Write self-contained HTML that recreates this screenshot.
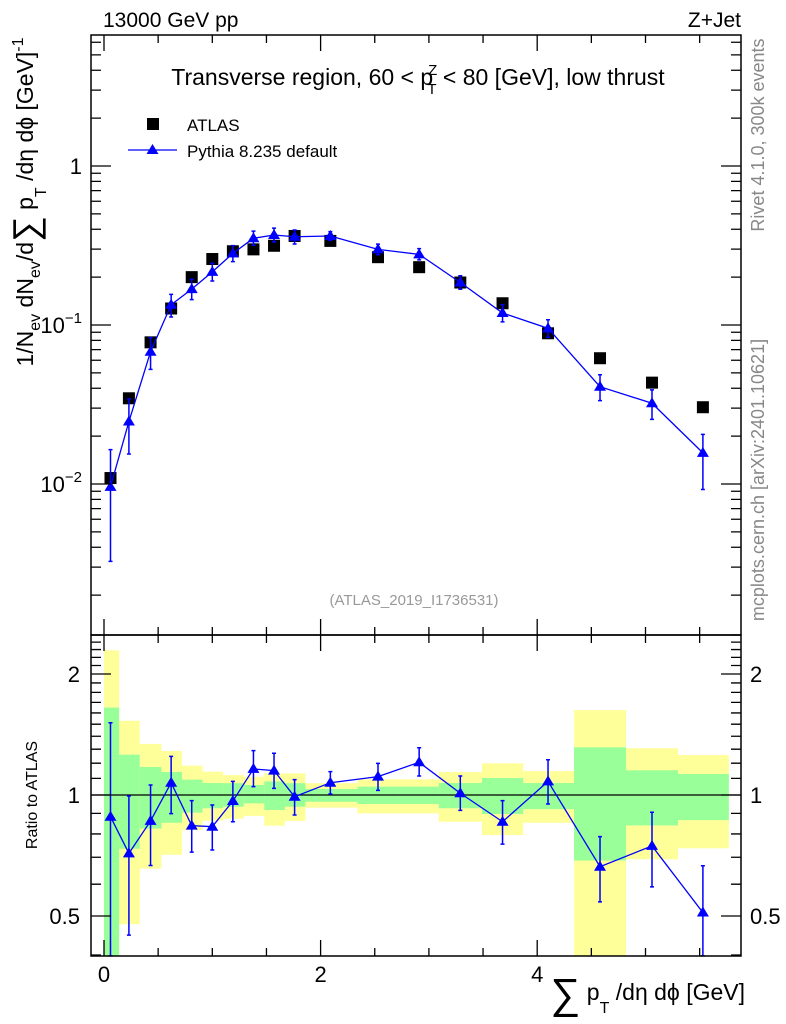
<!DOCTYPE html>
<html><head><meta charset="utf-8"><style>
html,body{margin:0;padding:0;background:#fff;}
svg{display:block;font-family:"Liberation Sans",sans-serif;}
</style></head><body>
<svg id="c" width="786" height="1024" viewBox="0 0 786 1024" xmlns="http://www.w3.org/2000/svg">
<text x="103" y="27" font-size="21">13000 GeV pp</text>
<text x="741" y="27" font-size="21" text-anchor="end">Z+Jet</text>
<text x="418" y="85" font-size="23" text-anchor="middle">Transverse region, 60 &lt; p<tspan font-size="15" dy="-10" dx="-5">Z</tspan><tspan font-size="15" dy="19" dx="-10">T</tspan><tspan dy="-9"> &lt; 80 [GeV], low thrust</tspan></text>
<text x="414" y="605" font-size="15" fill="#999" text-anchor="middle">(ATLAS_2019_I1736531)</text>
<text transform="translate(764,135) rotate(-90)" font-size="18" fill="#888" text-anchor="middle">Rivet 4.1.0,  300k events</text>
<text transform="translate(764,480) rotate(-90)" font-size="18" fill="#888" text-anchor="middle">mcplots.cern.ch [arXiv:2401.10621]</text>
<text transform="translate(33,202) rotate(-90)" font-size="23" text-anchor="middle">1/N<tspan font-size="16" dy="7">ev</tspan><tspan dy="-7"> dN</tspan><tspan font-size="16" dy="7">ev</tspan><tspan dy="-7">/d</tspan><tspan font-size="36" dy="5">∑</tspan><tspan dy="-5"> p</tspan><tspan font-size="16" dy="13">T</tspan><tspan dy="-13"> /dη dϕ  [GeV]</tspan><tspan font-size="16" dy="-10">-1</tspan></text>
<text transform="translate(37,795) rotate(-90)" font-size="16" text-anchor="middle">Ratio to ATLAS</text>
<text x="745" y="1000" font-size="23" text-anchor="end"><tspan font-size="42" dy="8">∑</tspan><tspan dy="-8"> p</tspan><tspan font-size="16" dy="13">T</tspan><tspan dy="-13"> /dη dϕ [GeV]</tspan></text>
<g>
<rect x="147" y="118" width="12" height="12" fill="#000"/>
<text x="187" y="131" font-size="17">ATLAS</text>
<line x1="128" y1="150" x2="177" y2="150" stroke="#00f" stroke-width="1.3"/>
<polygon points="152.5,144 146.5,154 158.5,154" fill="#00f"/>
<text x="187" y="157" font-size="17">Pythia 8.235 default</text>
</g>
<g id="main"></g>
<g id="ratio"></g>
</svg>
<script>
const binEdges=[0,0.14,0.33,0.53,0.72,0.91,1.10,1.29,1.48,1.67,1.86,2.34,2.72,3.09,3.49,3.87,4.34,4.82,5.30,5.77];
const xPoints=[0.06,0.23,0.43,0.62,0.81,1.0,1.19,1.38,1.57,1.76,2.09,2.53,2.91,3.29,3.68,4.10,4.58,5.06,5.53];
const atlasValues=[0.0109,0.0346,0.0778,0.127,0.200,0.260,0.291,0.299,0.315,0.363,0.338,0.267,0.231,0.185,0.137,0.0887,0.0618,0.0434,0.0304];
const pythiaValues=[0.0096,0.0247,0.0679,0.134,0.168,0.216,0.282,0.351,0.368,0.359,0.363,0.299,0.278,0.185,0.119,0.0953,0.0409,0.0322,0.0157];
const ratioValues=[0.883,0.716,0.862,1.073,0.839,0.834,0.966,1.161,1.150,0.99,1.073,1.111,1.206,1.01,0.858,1.081,0.663,0.747,0.510];
const ratioErrHi=[1.513,0.994,1.059,1.248,0.968,0.944,1.081,1.289,1.27,1.092,1.143,1.199,1.311,1.115,0.968,1.224,0.788,0.906,0.667];
const ratioErrLo=[0.3,0.448,0.668,0.899,0.721,0.730,0.858,1.049,1.039,0.892,1.006,1.027,1.115,0.916,0.755,0.950,0.542,0.591,0.3];
const yellowHi=[2.29,1.53,1.34,1.287,1.183,1.143,1.121,1.111,1.132,1.132,1.07,1.094,1.094,1.141,1.199,1.147,1.626,1.307,1.257];
const yellowLo=[0.3,0.477,0.656,0.710,0.818,0.863,0.873,0.887,0.839,0.862,0.930,0.90,0.90,0.858,0.795,0.853,0.3,0.692,0.737];
const greenHi=[1.65,1.26,1.174,1.141,1.092,1.071,1.07,1.059,1.081,1.07,1.035,1.049,1.049,1.071,1.102,1.071,1.314,1.152,1.128];
const greenLo=[0.3,0.735,0.825,0.853,0.904,0.927,0.935,0.953,0.918,0.935,0.962,0.95,0.95,0.927,0.897,0.922,0.687,0.84,0.866];
const xTicks=[0,2,4];
const mainYTicks=[1,0.1,0.01];
const ratioYTicks=[0.5,1,2];
const ratioYLabels=["0.5","1","2"];

const NS="http://www.w3.org/2000/svg";
const L=91,R=741,MT=35,MB=635,RT=635,RB=956;
const X=v=>104+v*108.3;
const Y=v=>166-159*Math.log10(v);
const Yr=v=>795-402*Math.log10(v);
function mk(p,t,a){const e=document.createElementNS(NS,t);for(const k in a)e.setAttribute(k,a[k]);p.appendChild(e);return e;}
const main=document.getElementById('main'), ratio=document.getElementById('ratio');
const clipR=Yr(2.5), clipB=Yr(0.398);
const cl=v=>Math.min(Math.max(v,clipR),clipB);

for(let i=0;i<xPoints.length;i++){
  const x0=X(binEdges[i]),x1=X(binEdges[i+1]);
  const y=mk(ratio,'rect',{x:x0,y:cl(Yr(yellowHi[i])),width:x1-x0,height:cl(Yr(yellowLo[i]))-cl(Yr(yellowHi[i])),fill:'#ffff99'});
  
  
}
for(let i=0;i<xPoints.length;i++){
  const x0=X(binEdges[i]),x1=X(binEdges[i+1]);
  const g=mk(ratio,'rect',{x:x0,y:cl(Yr(greenHi[i])),width:x1-x0,height:cl(Yr(greenLo[i]))-cl(Yr(greenHi[i])),fill:'#99ff99'});
  
  
}
const one=mk(ratio,'line',{x1:L,x2:R,y1:Yr(1),y2:Yr(1),stroke:'#000','stroke-width':1.3});



function tri(p,x,y,name){const t=mk(p,'polygon',{points:`${x},${y-6} ${x-6},${y+4} ${x+6},${y+4}`,fill:'#00f'});
 
 }
function errbar(p,x,y1,y2,name){const e=mk(p,'path',{d:`M${x},${y1}V${y2}M${x-2},${y1}H${x+2}M${x-2},${y2}H${x+2}`,stroke:'#00f','stroke-width':1.5,fill:'none'});
 
 }

let rp='';
xPoints.forEach((v,i)=>{rp+=(i?'L':'M')+X(v)+','+cl(Yr(ratioValues[i]));});
const rl=mk(ratio,'path',{d:rp,stroke:'#00f','stroke-width':1.3,fill:'none'});


xPoints.forEach((v,i)=>{
  errbar(ratio,X(v),cl(Yr(ratioErrHi[i])),cl(Yr(ratioErrLo[i])),'ratio-error-bar');
  tri(ratio,X(v),Yr(ratioValues[i]),'ratio-pythia-point');
});

xPoints.forEach((v,i)=>{
  const r=mk(main,'rect',{x:X(v)-6,y:Y(atlasValues[i])-6,width:12,height:12,fill:'#000'});
  
  
});
let mp='';
xPoints.forEach((v,i)=>{mp+=(i?'L':'M')+X(v)+','+Y(pythiaValues[i]);});
const ml=mk(main,'path',{d:mp,stroke:'#00f','stroke-width':1.3,fill:'none'});


xPoints.forEach((v,i)=>{
  const pv=pythiaValues[i];
  const hi=pv*ratioErrHi[i]/ratioValues[i], lo=pv*ratioErrLo[i]/ratioValues[i];
  errbar(main,X(v),Math.max(Y(hi),MT),Math.min(Y(lo),MB),'pythia-error-bar');
  tri(main,X(v),Y(pv),'pythia-point');
});

[[MT,MB,'main-frame'],[RT,RB,'ratio-frame']].forEach(([t,b,n])=>{
  const f=mk(document.getElementById('c'),'rect',{x:L,y:t,width:R-L,height:b-t,fill:'none',stroke:'#000','stroke-width':1.5});
  
  
});
const ax=document.getElementById('c');
let tk='';
for(let v=0;v<=5.75;v+=0.5){const x=X(v);const maj=Math.abs(v%2)<1e-6;const len=maj?16:8;
  [[MT,1],[MB,-1],[RT,1],[RB,-1]].forEach(([y,s])=>{tk+=`M${x},${y}v${s*len}`;});}
for(let d=-3;d<=0;d++){for(let m=1;m<=9;m++){const v=m*Math.pow(10,d);const y=Y(v);if(y<MT||y>MB)continue;const len=m==1?20:10;tk+=`M${L},${y}h${len}M${R},${y}h${-len}`;}}
for(let v=0.4;v<=2.51;v+=0.1){const y=Yr(v);const m=[0.5,1,2].some(q=>Math.abs(q-v)<1e-6);const len=m?20:10;tk+=`M${L},${y}h${len}M${R},${y}h${-len}`;}
const tp=mk(ax,'path',{d:tk,stroke:'#000','stroke-width':1.3,fill:'none'});



xTicks.forEach(v=>{const t=mk(ax,'text',{x:X(v),y:982,'font-size':22,'text-anchor':'middle'});t.textContent=v;
 
 });
mainYTicks.forEach(v=>{const e=Math.round(Math.log10(v));const t=mk(ax,'text',{x:82,y:Y(v)+8,'font-size':22,'text-anchor':'end'});
 if(e===0)t.textContent='1';else{t.textContent='10';const s=mk(t,'tspan',{'font-size':15,dy:-10});s.textContent='−'+(-e);}
 
 });
ratioYTicks.forEach((v,i)=>{[[80,'end'],[750,'start']].forEach(([x,a])=>{const t=mk(ax,'text',{x:x,y:Yr(v)+8,'font-size':22,'text-anchor':a});t.textContent=ratioYLabels[i];
 
 });});
</script>
</body></html>
